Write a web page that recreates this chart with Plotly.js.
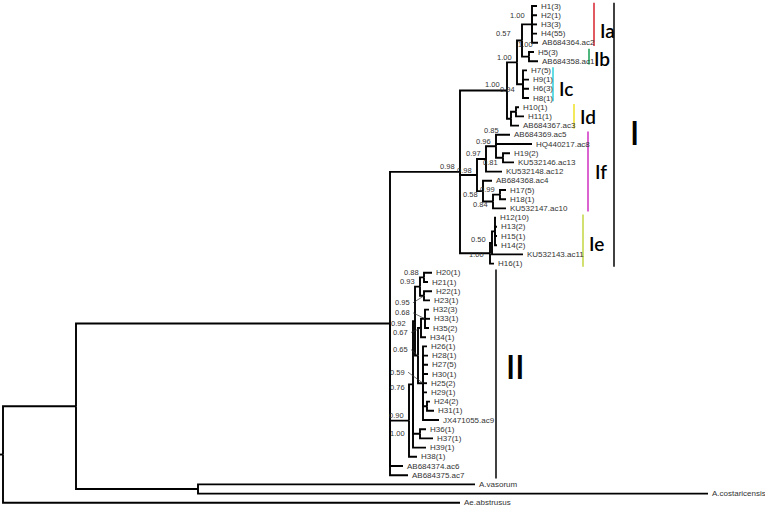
<!DOCTYPE html>
<html>
<head>
<meta charset="utf-8">
<script src="https://cdn.plot.ly/plotly-3.0.1.min.js"></script>
<style>html,body{margin:0;padding:0;background:#fff}#chart{width:765px;height:510px;opacity:0.999;transform:translateZ(0)}</style>
</head>
<body>
<div id="chart"></div>
<script>
// ---------------- DATA ----------------
// tips, top to bottom
const tipLabels = ['H1(3)','H2(1)','H3(3)','H4(55)','AB684364.ac2','H5(3)','AB684358.ac1',
  'H7(5)','H9(1)','H6(3)','H8(1)','H10(1)','H11(1)','AB684367.ac3',
  'AB684369.ac5','HQ440217.ac8','H19(2)','KU532146.ac13','KU532148.ac12',
  'AB684368.ac4','H17(5)','H18(1)','KU532147.ac10',
  'H12(10)','H13(2)','H15(1)','H14(2)','KU532143.ac11','H16(1)',
  'H20(1)','H21(1)','H22(1)','H23(1)','H32(3)','H33(1)','H35(2)','H34(1)',
  'H26(1)','H28(1)','H27(5)','H30(1)','H25(2)','H29(1)','H24(2)','H31(1)','JX471055.ac9',
  'H36(1)','H37(1)','H39(1)','H38(1)','AB684374.ac6','AB684375.ac7',
  'A.vasorum','A.costaricensis','Ae.abstrusus'];
const tipParent = ['Ia','Ia','Ia','Ia','Ia','Ib','Ib',
  'Ic','Ic','Ic','Ic','Id1','Id1','Id',
  'E','E','F','F','D',
  'G','I','I','H',
  'K','K','K','K','J','Ie',
  'L','L','N','N','O','O','O','U',
  'W','W','W','W','W','W','W1','W1','W',
  'Z','Z','Q','P','Ning','Ning',
  'Nout','Nout','root'];
// cumulative distance from the left edge (tree units)
const tipDepth = [537,537,537,537,538,534,538,
  527,529,529,529,519,524,519,
  510,532,510,514,502,
  492,506,506,506,
  496,497,497,497,523,494,
  432,428,432,430,429,430,429,426,
  427,428,428,428,427,427,430,434,439,
  426,433,426,417,403,408,
  475,708,460];
// internal nodes
const nodeIds     = ['root','Nin','Ning','Nout','CI','A','B','C','Ia','Ib','Ic','Id','Id1',
  'If','D','E','F','G','H','I','Ie','J','K',
  'P','Q','Y','M','L','N','X','U','O','W','W1','Z'];
const nodeParent  = [null,'root','Nin','Nin','Ning','CI','A','B','C','C','B','A','Id',
  'CI','If','D','E','If','G','H','CI','Ie','J',
  'Ning','P','Q','Y','M','M','Y','X','U','X','W','Q'];
const nodeDepth   = [3,76,390,198,460,507,517,522,532,529,523,511,516,
  477,486,496,503,483,493,500,490,492,495,
  409,413,415,420,424,424,418,421,425,423,427,420];
const nodeSupport = ['','','','','0.98','1.00','1.00','0.57','1.00','1.00','0.94','0.85','',
  '0.98','0.97','0.96','0.81','0.58','0.84','0.99','1.00','0.50','',
  '0.90','0.76','0.92','0.93','0.88','0.95','0.65','0.67','0.68','0.59','','1.00'];
// clades
const cladeNames = ['Ia','Ib','Ic','Id','If','Ie','I','II'];
const cladeFirst = ['H1(3)','H5(3)','H7(5)','H10(1)','AB684369.ac5','H12(10)','H1(3)','H20(1)'];
const cladeLast  = ['AB684364.ac2','AB684358.ac1','H8(1)','AB684367.ac3','KU532147.ac10','H16(1)','H16(1)','AB684375.ac7'];

// ---------------- STYLE ----------------
const PX_PER_TIP = 9.2;
const cladeColor  = ['#d9303c','#22a45d','#3cd4de','#f2e232','#d23cc6','#c6d94c','#111111','#111111'];
const cladeBarX   = [594,589,553,574,588,583,614,496];
const cladeTextDx = [4,3,4,4,5,4,14,8];
const cladeTextDy = [6,2,4,0,0,3,-2,-8];
const cladeFont   = [19,19,19,19,19,19,32,32];
const cladePad    = 0.35;
// support label offsets (px): dx moves right edge, dy moves down; lead = leader line
const supOff = {
  A:{dx:-2,dy:-1},
  C:{dx:-6,dy:-2}, Ia:{dx:-2,dy:-4}, Ib:{dx:9,dy:-7}, Ic:{dx:-3,dy:10}, Id:{dx:-7,dy:17},
  F:{dx:0,dy:10}, G:{dx:0,dy:8}, H:{dx:0,dy:8}, J:{dx:-1,dy:2}, Ie:{dx:-1,dy:6},
  Q:{dx:-3,dy:8}, Y:{dx:-4,dy:7}, Z:{dx:-10,dy:5},
  N:{dx:-9,dy:12,lead:true}, O:{dx:-10,dy:-1,lead:true}, U:{dx:-8,dy:9.5,lead:true},
  X:{dx:-5,dy:-1,lead:true}, W:{dx:-13,dy:-6,lead:true}
};

// ---------------- BUILD ----------------
const depthOf = id => nodeDepth[nodeIds.indexOf(id)];
const nodeY = {};
function yOf(id){
  if (nodeY[id] !== undefined) return nodeY[id];
  const ys = [];
  tipParent.forEach((p,i)=>{ if(p===id) ys.push(i); });
  nodeIds.forEach((n,j)=>{ if(nodeParent[j]===id) ys.push(yOf(n)); });
  nodeY[id] = (Math.min(...ys)+Math.max(...ys))/2;
  return nodeY[id];
}
nodeIds.forEach(yOf);

const lx = [], ly = [];
function seg(pid, cx, cy){
  const px = depthOf(pid), py = yOf(pid);
  lx.push(px, px, cx, null); ly.push(py, cy, cy, null);
}
nodeIds.forEach((n,j)=>{
  if (nodeParent[j]) seg(nodeParent[j], nodeDepth[j], yOf(n));
  else { lx.push(0, nodeDepth[j], null); ly.push(yOf(n), yOf(n), null); }
});
tipLabels.forEach((t,i)=> seg(tipParent[i], tipDepth[i], i));

const traces = [{type:'scatter', mode:'lines', x:lx, y:ly, hoverinfo:'skip',
  line:{color:'#000', width:1.9}, showlegend:false}];

const annotations = [];
const shapes = [];
const tipFont = {family:'Liberation Sans, Arial, sans-serif', size:8, color:'#333'};
tipLabels.forEach((t,i)=>{
  annotations.push({x:tipDepth[i], y:i, text:t, showarrow:false, xanchor:'left', yanchor:'middle',
    xshift:2, font:tipFont});
});
nodeIds.forEach((n,j)=>{
  const s = nodeSupport[j]; if(!s) return;
  const o = supOff[n] || {dx:0,dy:0};
  const nx = nodeDepth[j], ny = yOf(n);
  annotations.push({x:nx, y:ny, text:s, showarrow:false, xanchor:'right', yanchor:'middle',
    xshift:-3+o.dx, yshift:5-o.dy, font:{family:'Liberation Sans, Arial, sans-serif', size:7.5, color:'#333'}});
  if (o.lead){
    shapes.push({type:'line', xref:'x', yref:'y', x0:nx-2+o.dx, y0:ny+(o.dy-5)/PX_PER_TIP,
      x1:nx, y1:ny, line:{color:'#333', width:0.7}});
  }
});
cladeNames.forEach((c,k)=>{
  const a = tipLabels.indexOf(cladeFirst[k]), b = tipLabels.indexOf(cladeLast[k]);
  shapes.push({type:'line', xref:'x', yref:'y', x0:cladeBarX[k], x1:cladeBarX[k],
    y0:a-cladePad, y1:b+cladePad, line:{color:cladeColor[k], width:1.6}});
  annotations.push({x:cladeBarX[k], y:(a+b)/2, text:c, showarrow:false, xanchor:'left', yanchor:'middle',
    xshift:cladeTextDx[k], yshift:-cladeTextDy[k],
    font:{family:'Lato, Open Sans, sans-serif', size:cladeFont[k], color:'#000', weight:600}});
});

const yTop = -6/PX_PER_TIP, yBot = (510-6)/PX_PER_TIP;
const layout = {
  width:765, height:510, margin:{l:0,r:0,t:0,b:0},
  paper_bgcolor:'#fff', plot_bgcolor:'#fff',
  xaxis:{range:[0,765], visible:false, fixedrange:true},
  yaxis:{range:[yBot, yTop], visible:false, fixedrange:true},
  annotations, shapes, showlegend:false
};
Plotly.newPlot('chart', traces, layout, {staticPlot:true, displayModeBar:false});
</script>
</body>
</html>
